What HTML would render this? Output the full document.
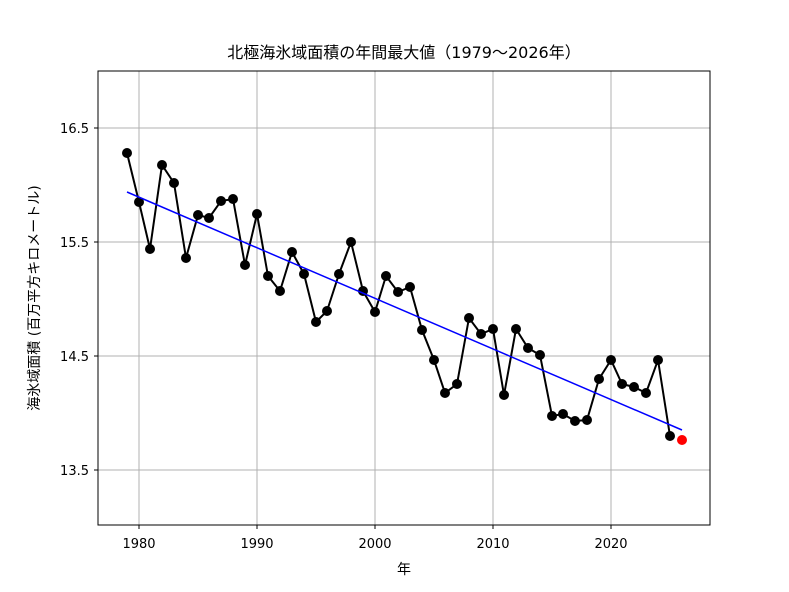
<!DOCTYPE html>
<html><head><meta charset="utf-8"><style>body{margin:0;background:#fff}svg{display:block}text{font-family:"DejaVu Sans","Noto Sans CJK JP",sans-serif;fill:#000}</style></head><body>
<svg width="789" height="592" viewBox="0 0 789 592">
<rect width="789" height="592" fill="#fff"/>
<g stroke="#b0b0b0" stroke-width="1">
<line x1="139" y1="71" x2="139" y2="525"/><line x1="257" y1="71" x2="257" y2="525"/><line x1="375" y1="71" x2="375" y2="525"/><line x1="493" y1="71" x2="493" y2="525"/><line x1="611" y1="71" x2="611" y2="525"/>
<line x1="98" y1="128" x2="710" y2="128"/><line x1="98" y1="242" x2="710" y2="242"/><line x1="98" y1="356" x2="710" y2="356"/><line x1="98" y1="470" x2="710" y2="470"/>
</g>
<polyline fill="none" stroke="#000" stroke-width="2" points="127,153 139,202 150,249 162,165 174,183 186,258 198,215 209,218 221,201 233,199 245,265 257,214 268,276 280,291 292,252 304,274 316,322 327,311 339,274 351,242 363,291 375,312 386,276 398,292 410,287 422,330 434,360 445,393 457,384 469,318 481,334 493,329 504,395 516,329 528,348 540,355 552,416 563,414 575,421 587,420 599,379 611,360 622,384 634,387 646,393 658,360 670,436"/>
<g fill="#000">
<circle cx="127" cy="153" r="5"/><circle cx="139" cy="202" r="5"/><circle cx="150" cy="249" r="5"/><circle cx="162" cy="165" r="5"/><circle cx="174" cy="183" r="5"/><circle cx="186" cy="258" r="5"/><circle cx="198" cy="215" r="5"/><circle cx="209" cy="218" r="5"/><circle cx="221" cy="201" r="5"/><circle cx="233" cy="199" r="5"/><circle cx="245" cy="265" r="5"/><circle cx="257" cy="214" r="5"/><circle cx="268" cy="276" r="5"/><circle cx="280" cy="291" r="5"/><circle cx="292" cy="252" r="5"/><circle cx="304" cy="274" r="5"/><circle cx="316" cy="322" r="5"/><circle cx="327" cy="311" r="5"/><circle cx="339" cy="274" r="5"/><circle cx="351" cy="242" r="5"/><circle cx="363" cy="291" r="5"/><circle cx="375" cy="312" r="5"/><circle cx="386" cy="276" r="5"/><circle cx="398" cy="292" r="5"/><circle cx="410" cy="287" r="5"/><circle cx="422" cy="330" r="5"/><circle cx="434" cy="360" r="5"/><circle cx="445" cy="393" r="5"/><circle cx="457" cy="384" r="5"/><circle cx="469" cy="318" r="5"/><circle cx="481" cy="334" r="5"/><circle cx="493" cy="329" r="5"/><circle cx="504" cy="395" r="5"/><circle cx="516" cy="329" r="5"/><circle cx="528" cy="348" r="5"/><circle cx="540" cy="355" r="5"/><circle cx="552" cy="416" r="5"/><circle cx="563" cy="414" r="5"/><circle cx="575" cy="421" r="5"/><circle cx="587" cy="420" r="5"/><circle cx="599" cy="379" r="5"/><circle cx="611" cy="360" r="5"/><circle cx="622" cy="384" r="5"/><circle cx="634" cy="387" r="5"/><circle cx="646" cy="393" r="5"/><circle cx="658" cy="360" r="5"/><circle cx="670" cy="436" r="5"/>
</g>
<line x1="127" y1="192" x2="682" y2="430" stroke="#0000ff" stroke-width="1.5"/>
<circle cx="682" cy="440" r="5" fill="#ff0000"/>
<rect x="98" y="71" width="612" height="454" fill="none" stroke="#000" stroke-width="1"/>
<g stroke="#000"><line x1="139" y1="525" x2="139" y2="529"/><line x1="257" y1="525" x2="257" y2="529"/><line x1="375" y1="525" x2="375" y2="529"/><line x1="493" y1="525" x2="493" y2="529"/><line x1="611" y1="525" x2="611" y2="529"/>
<line x1="94" y1="128" x2="98" y2="128"/><line x1="94" y1="242" x2="98" y2="242"/><line x1="94" y1="356" x2="98" y2="356"/><line x1="94" y1="470" x2="98" y2="470"/></g>
<g font-size="13" text-anchor="middle"><text x="139" y="548">1980</text><text x="257" y="548">1990</text><text x="375" y="548">2000</text><text x="493" y="548">2010</text><text x="611" y="548">2020</text></g>
<g font-size="13" text-anchor="end"><text x="89" y="133">16.5</text><text x="89" y="247">15.5</text><text x="89" y="361">14.5</text><text x="89" y="475">13.5</text></g>
<text x="404" y="574" font-size="14" text-anchor="middle">年</text>
<text transform="translate(39,298) rotate(-90)" font-size="14" text-anchor="middle">海氷域面積 (百万平方キロメートル)</text>
<text x="404" y="58" font-size="16" text-anchor="middle">北極海氷域面積の年間最大値（1979〜2026年）</text>
</svg>
</body></html>
